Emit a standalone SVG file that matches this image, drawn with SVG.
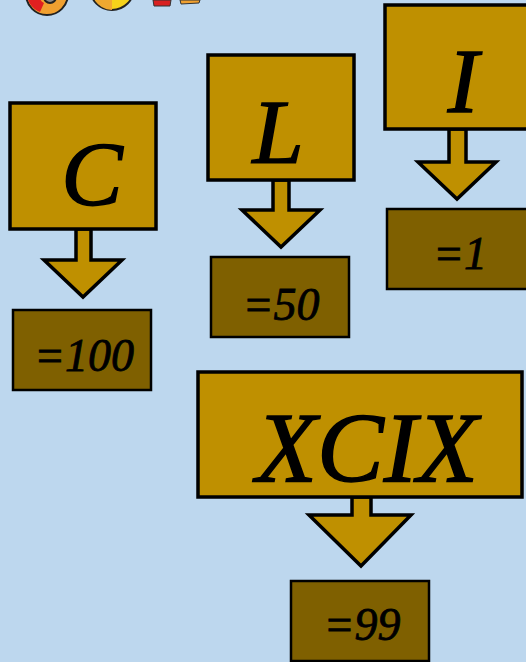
<svg xmlns="http://www.w3.org/2000/svg" width="526" height="662" viewBox="0 0 526 662">
<style>
.bg{fill:#bdd7ee}
.num{fill:#bf9000;stroke:#000;stroke-width:3.5}
.val{fill:#7f6000;stroke:#000;stroke-width:2.5}
.arr{fill:#bf9000;stroke:#000;stroke-width:3.5;stroke-linejoin:miter}
.t{font-family:"Liberation Serif","DejaVu Serif",serif;font-style:italic;fill:#000;stroke:#000;text-anchor:middle}
.big{font-size:92px;stroke-width:1.5}
.small{font-size:46px;stroke-width:0.8}
</style>
<rect class="bg" x="0" y="0" width="526" height="662"/>
<g id="title-fragment">
<circle cx="47" cy="-6" r="21" fill="#f0a030" stroke="#222" stroke-width="2"/>
<path d="M27,-6 A20,20 0 0 0 40,12 L44,3 A8,8 0 0 1 40,-6 Z" fill="#e02020"/>
<circle cx="50" cy="-3" r="6" fill="#8a8a8a" stroke="#222" stroke-width="2"/>
<circle cx="112" cy="-12" r="22" fill="#f5d21a" stroke="#222" stroke-width="2"/>
<path d="M94,-1 A22,22 0 0 0 112,10 L112,-12 Z" fill="#f0a830"/>
<polygon points="153,0 171,0 170,6 154,6" fill="#d82020" stroke="#333" stroke-width="1"/>
<polygon points="180,0 200,0 199,3 181,4" fill="#f0a030" stroke="#333" stroke-width="1"/>
</g>
<g id="connectors">
<polygon class="arr" points="76,229 91,229 91,260 122,260 83,297 44,260 76,260"/>
<polygon class="arr" points="273,180 289,180 289,210 320,210 281,247 242,210 273,210"/>
<polygon class="arr" points="449,129 466,129 466,162 496,162 457,199 418,162 449,162"/>
<polygon class="arr" points="352,497 371,497 371,515 411,515 361,566 309,515 352,515"/>
</g>
<g id="node-C">
<rect class="num" x="10" y="103" width="146" height="126"/>
<text class="t big" x="92" y="205">C</text>
</g>
<g id="node-C-value">
<rect class="val" x="13" y="310" width="138" height="80"/>
<text class="t small" x="84" y="371">=100</text>
</g>
<g id="node-L">
<rect class="num" x="208" y="55" width="146" height="125"/>
<text class="t big" x="278" y="163">L</text>
</g>
<g id="node-L-value">
<rect class="val" x="211" y="257" width="138" height="80"/>
<text class="t small" x="281" y="320">=50</text>
</g>
<g id="node-I">
<rect class="num" x="385" y="5" width="145" height="124"/>
<text class="t big" x="463" y="112">I</text>
</g>
<g id="node-I-value">
<rect class="val" x="387" y="209" width="141" height="80"/>
<text class="t small" x="460" y="269">=1</text>
</g>
<g id="node-XCIX">
<rect class="num" x="198" y="372" width="324" height="125"/>
<text class="t" style="font-size:100px;stroke-width:1.5" x="367" y="481">XCIX</text>
</g>
<g id="node-XCIX-value">
<rect class="val" x="291" y="581" width="138" height="80"/>
<text class="t small" x="362" y="640">=99</text>
</g>
</svg>
